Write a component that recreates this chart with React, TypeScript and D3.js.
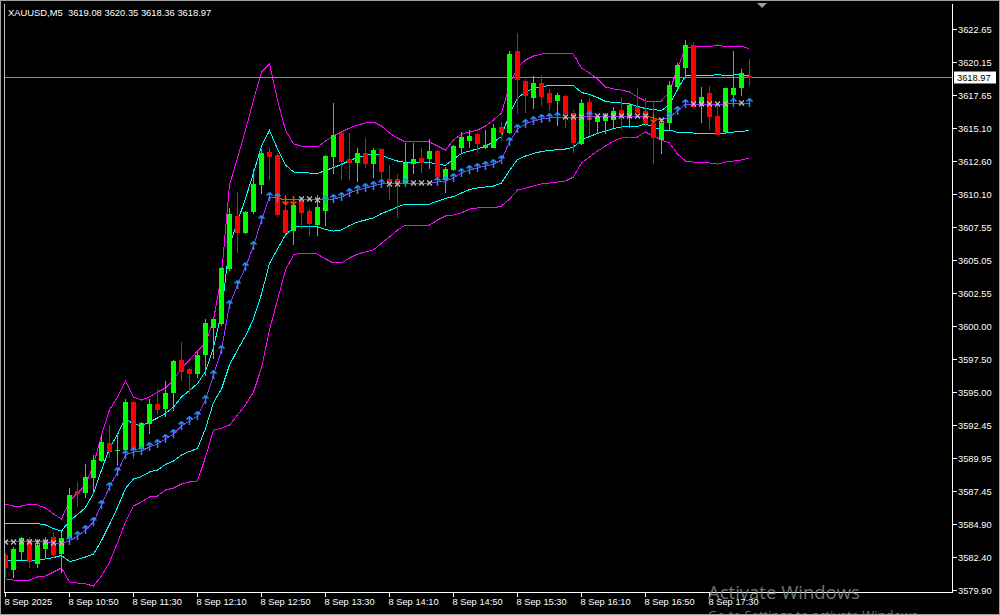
import React from "react";
import * as d3 from "d3";

// ---------- DATA ----------
const symbol = "XAUUSD,M5";
const startTime = new Date(2025, 8, 8, 10, 10);
const barMinutes = 5;

const opens = [
  3582.57, 3581.50, 3582.87, 3583.76, 3581.98, 3583.08, 3583.96, 3582.70, 3583.96, 3587.44,
  3587.39, 3588.53, 3589.81, 3591.12, 3590.57, 3590.62, 3594.25, 3590.70, 3592.60, 3594.07,
  3593.75, 3594.96, 3597.43, 3596.74, 3596.46, 3597.88, 3599.96, 3600.27, 3604.41, 3608.42,
  3607.20, 3608.80, 3610.84, 3613.30, 3613.05, 3608.86, 3607.33, 3609.56, 3608.78, 3607.79,
  3608.86, 3612.97, 3614.70, 3612.72, 3612.54, 3613.18, 3612.46, 3613.50, 3611.20, 3611.20,
  3610.97, 3612.41, 3612.80, 3612.80, 3613.35, 3611.22, 3611.98, 3613.68, 3614.19, 3614.65,
  3613.63, 3613.68, 3615.16, 3614.82, 3620.97, 3618.71, 3617.49, 3618.56, 3617.80, 3617.24,
  3617.54, 3616.22, 3613.94, 3617.11, 3615.66, 3615.71, 3615.77, 3616.48, 3616.02, 3616.68,
  3616.42, 3615.51, 3614.24, 3615.58, 3618.30, 3619.78, 3621.43, 3616.86, 3617.75, 3616.02,
  3614.90, 3617.70, 3618.25, 3619.08,
];
const highs = [
  3582.72, 3583.18, 3583.96, 3583.96, 3583.76, 3583.96, 3584.30, 3584.34, 3587.65, 3588.11,
  3589.50, 3590.19, 3591.71, 3592.47, 3591.84, 3594.43, 3594.32, 3592.73, 3594.43, 3595.22,
  3595.83, 3597.43, 3598.82, 3596.80, 3598.06, 3600.53, 3600.60, 3604.49, 3608.99, 3610.25,
  3608.81, 3611.98, 3613.48, 3613.56, 3613.18, 3610.00, 3609.37, 3609.87, 3608.91, 3610.00,
  3613.05, 3617.03, 3614.75, 3614.75, 3613.56, 3614.32, 3613.60, 3613.55, 3612.29, 3611.60,
  3613.98, 3613.94, 3613.60, 3614.27, 3613.40, 3612.16, 3613.81, 3614.82, 3614.95, 3614.70,
  3614.95, 3615.41, 3615.58, 3620.99, 3622.32, 3618.81, 3619.07, 3619.14, 3618.05, 3617.80,
  3617.62, 3616.48, 3617.31, 3617.37, 3616.10, 3616.22, 3616.73, 3617.44, 3616.93, 3618.13,
  3617.37, 3617.11, 3615.71, 3618.71, 3620.08, 3621.81, 3621.66, 3618.21, 3618.30, 3616.99,
  3618.15, 3620.99, 3619.58, 3620.35,
];
const lows = [
  3580.89, 3580.89, 3582.24, 3581.68, 3581.68, 3582.32, 3582.44, 3581.29, 3583.90, 3586.32,
  3587.01, 3587.27, 3589.75, 3590.06, 3589.43, 3590.55, 3589.94, 3590.50, 3591.89, 3593.31,
  3593.16, 3593.62, 3595.90, 3594.93, 3596.15, 3596.28, 3597.56, 3600.09, 3604.28, 3605.68,
  3607.08, 3608.60, 3610.13, 3611.20, 3608.40, 3607.08, 3606.24, 3607.46, 3606.95, 3606.95,
  3607.71, 3611.65, 3611.20, 3611.20, 3611.09, 3612.11, 3611.39, 3611.14, 3609.67, 3608.35,
  3610.89, 3611.70, 3611.77, 3612.03, 3611.14, 3610.25, 3611.90, 3613.30, 3613.68, 3613.30,
  3613.60, 3613.63, 3614.19, 3614.70, 3616.22, 3616.35, 3616.61, 3616.86, 3616.48, 3615.33,
  3615.20, 3613.30, 3613.88, 3614.57, 3614.70, 3614.70, 3615.20, 3615.01, 3615.20, 3616.32,
  3615.33, 3612.41, 3613.22, 3614.95, 3618.13, 3619.07, 3616.68, 3615.58, 3615.01, 3614.62,
  3614.82, 3617.37, 3617.62, 3618.36,
];
const closes = [
  3581.65, 3583.02, 3583.89, 3582.11, 3583.33, 3583.71, 3582.62, 3583.84, 3587.14, 3587.27,
  3588.53, 3589.81, 3591.20, 3590.51, 3590.60, 3594.25, 3590.70, 3592.60, 3594.07, 3593.69,
  3594.89, 3597.35, 3596.61, 3596.46, 3597.81, 3600.22, 3600.53, 3604.41, 3608.53, 3607.20,
  3608.73, 3610.84, 3613.18, 3612.97, 3608.55, 3607.20, 3609.24, 3608.73, 3607.84, 3609.11,
  3612.97, 3614.57, 3612.59, 3612.54, 3613.18, 3612.46, 3613.43, 3611.85, 3611.01, 3611.07,
  3612.46, 3612.72, 3612.54, 3613.35, 3611.45, 3611.98, 3613.73, 3614.44, 3614.49, 3613.94,
  3613.81, 3615.08, 3614.82, 3620.74, 3618.84, 3617.62, 3618.56, 3617.57, 3617.11, 3617.62,
  3616.27, 3614.06, 3617.03, 3615.77, 3615.92, 3616.10, 3616.40, 3616.10, 3616.86, 3616.35,
  3615.46, 3614.39, 3615.51, 3618.38, 3619.91, 3621.43, 3616.78, 3617.49, 3616.02, 3614.65,
  3618.13, 3618.13, 3619.27, 3618.97,
];

// Bollinger bands (deviation 2 = outer, deviation 1 = inner) around the middle line
const bbUpper = [
  3586.45, 3586.30, 3586.30, 3586.45, 3586.38, 3586.15, 3585.69, 3585.31, 3586.68, 3587.29,
  3587.90, 3589.43, 3591.71, 3593.62, 3594.61, 3595.83, 3594.61, 3594.38, 3594.61, 3594.99,
  3595.29, 3595.90, 3596.82, 3597.43, 3598.11, 3598.72, 3600.47, 3603.90, 3610.76, 3612.82,
  3614.95, 3617.24, 3619.37, 3619.98, 3617.24, 3614.95, 3613.89, 3613.73, 3613.66, 3613.66,
  3614.11, 3614.50, 3614.80, 3615.10, 3615.33, 3615.49, 3615.56, 3615.26, 3614.72, 3614.34,
  3614.04, 3614.04, 3614.04, 3614.04, 3613.73, 3613.43, 3614.19, 3614.65, 3614.80, 3614.95,
  3615.26, 3615.71, 3616.25, 3618.38, 3619.75, 3620.29, 3620.59, 3620.74, 3620.82, 3620.82,
  3620.82, 3620.74, 3619.68, 3619.30, 3618.84, 3618.23, 3618.08, 3618.00, 3617.85, 3617.47,
  3617.16, 3617.16, 3617.16, 3617.85, 3619.68, 3621.20, 3621.28, 3621.28, 3621.28, 3621.43,
  3621.28, 3621.28, 3621.35, 3621.12,
];
const bbMid = [
  3583.56, 3583.56, 3583.56, 3583.56, 3583.56, 3583.56, 3583.48, 3583.48, 3583.63, 3584.01,
  3584.47, 3585.08, 3586.38, 3587.75, 3588.89, 3590.19, 3590.42, 3590.49, 3590.80, 3591.03,
  3591.41, 3591.79, 3592.40, 3592.78, 3593.16, 3594.38, 3596.28, 3598.19, 3601.62, 3603.14,
  3604.51, 3606.11, 3608.09, 3609.85, 3609.77, 3609.62, 3609.62, 3609.69, 3609.69, 3609.62,
  3609.62, 3609.69, 3609.85, 3610.15, 3610.38, 3610.53, 3610.69, 3610.84, 3610.84, 3610.84,
  3610.91, 3610.91, 3610.91, 3610.91, 3610.99, 3611.07, 3611.29, 3611.68, 3611.90, 3612.06,
  3612.21, 3612.36, 3612.67, 3614.04, 3615.03, 3615.41, 3615.64, 3615.79, 3615.87, 3615.94,
  3615.94, 3615.94, 3615.94, 3616.02, 3616.02, 3616.02, 3616.02, 3616.02, 3616.02, 3616.02,
  3616.02, 3615.87, 3615.71, 3615.94, 3616.40, 3616.93, 3616.93, 3616.93, 3616.93, 3616.93,
  3616.93, 3617.01, 3617.01, 3617.01,
];
const bbLower = [
  3580.74, 3580.66, 3580.66, 3580.66, 3580.89, 3580.97, 3581.27, 3581.58, 3580.51, 3580.43,
  3580.36, 3580.20, 3580.97, 3582.03, 3583.48, 3585.08, 3586.30, 3586.61, 3586.99, 3587.06,
  3587.52, 3587.67, 3587.98, 3588.13, 3588.21, 3590.03, 3592.09, 3592.24, 3592.47, 3593.24,
  3594.00, 3594.99, 3596.82, 3599.71, 3602.00, 3604.28, 3605.43, 3605.58, 3605.58, 3605.50,
  3605.12, 3604.82, 3604.82, 3605.20, 3605.50, 3605.66, 3605.81, 3606.34, 3606.80, 3607.33,
  3607.71, 3607.71, 3607.71, 3607.71, 3608.09, 3608.40, 3608.48, 3608.63, 3608.93, 3609.01,
  3609.01, 3609.01, 3609.16, 3609.69, 3610.38, 3610.53, 3610.69, 3610.84, 3610.91, 3610.99,
  3611.07, 3611.37, 3612.44, 3612.89, 3613.35, 3613.73, 3614.11, 3614.34, 3614.42, 3614.42,
  3614.80, 3614.50, 3614.19, 3613.96, 3613.12, 3612.59, 3612.51, 3612.51, 3612.44, 3612.36,
  3612.51, 3612.59, 3612.67, 3612.82,
];

// trend signal per bar: u = up arrow, d = down arrow, x = flat
const signals = (
  "xxxxxxxx" +
  "uuuuuuuuuuuuuuuuuuuuuuuuuuu" +
  "dd" + "xxx" + "uuuuuuuu" + "xx" + "u" + "xxx" +
  "uuuuuuuuuuuuuuuu" + "xxx" + "u" + "xxxxxxx" + "d" + "x" +
  "uuu" + "xxxxx" + "u" + "x" + "u"
).split("");

const priceTicks = [
  3622.65, 3620.15, 3617.65, 3615.10, 3612.60, 3610.10, 3607.55, 3605.05, 3602.55,
  3600.00, 3597.50, 3595.00, 3592.45, 3589.95, 3587.45, 3584.90, 3582.40, 3579.90,
];
const timeTicks = ["10:10", "10:50", "11:30", "12:10", "12:50", "13:30", "14:10", "14:50", "15:30", "16:10", "16:50", "17:30"];
const timeTickLabels = [
  "8 Sep 2025", "8 Sep 10:50", "8 Sep 11:30", "8 Sep 12:10", "8 Sep 12:50", "8 Sep 13:30",
  "8 Sep 14:10", "8 Sep 14:50", "8 Sep 15:30", "8 Sep 16:10", "8 Sep 16:50", "8 Sep 17:30",
];

// ---------- CHART ----------
const W = 1000;
const H = 615;
const FONT = "'Liberation Sans', Arial, sans-serif";

export default function App() {
  const n = closes.length;
  const frame = { left: 4, right: 952, top: 4, bottom: 592 };
  const barStep = 8;
  const barTimes = d3.range(n).map((i) => d3.timeMinute.offset(startTime, i * barMinutes));
  const fmt = d3.timeFormat("%H:%M");
  const x = d3.scaleLinear().domain([0, n - 1]).range([5.5, 5.5 + barStep * (n - 1)]);
  const y = d3.scaleLinear().domain([3579.9, 3622.65]).range([590, 29]);

  const idx = d3.range(n);
  const mkLine = (arr: number[]) =>
    d3.line<number>().x((i) => x(i)).y((i) => y(arr[i]))(idx) || "";
  const innerUp = idx.map((i) => (bbMid[i] + bbUpper[i]) / 2);
  const innerDn = idx.map((i) => (bbMid[i] + bbLower[i]) / 2);

  const last = closes[n - 1];
  const lastY = Math.round(y(last)) + 0.5;

  const upArrow = "M0,-4.5 L-3,-1.5 M0,-4.5 L3,-1.5 M0,-4.5 L0,4";
  const dnArrow = "M0,4.5 L-3,1.5 M0,4.5 L3,1.5 M0,4.5 L0,-4";

  return (
    <svg
      width={W}
      height={H}
      style={{ position: "absolute", left: 0, top: 0, display: "block", background: "#000" }}
      fontFamily={FONT}
    >
      <rect x={0} y={0} width={W} height={H} fill="#000" />
      <defs>
        <clipPath id="plot">
          <rect x={frame.left + 1} y={frame.top} width={frame.right - frame.left - 1} height={frame.bottom - frame.top} />
        </clipPath>
      </defs>

      {/* header */}
      <text x={8} y={16} fill="#fff" fontSize={9.4}>
        {symbol}
        {"\u00a0\u00a0"}
        {`${opens[n - 1].toFixed(2)} ${highs[n - 1].toFixed(2)} ${lows[n - 1].toFixed(2)} ${closes[n - 1].toFixed(2)}`}
      </text>

      <g clipPath="url(#plot)">
        {/* bands */}
        <g shapeRendering="crispEdges" fill="none" strokeWidth={1}>
          <path d={mkLine(bbUpper)} stroke="#ff00ff" />
          <path d={mkLine(bbLower)} stroke="#ff00ff" />
          <path d={mkLine(innerUp)} stroke="#00ffff" />
          <path d={mkLine(innerDn)} stroke="#00ffff" />
        </g>

        {/* price line */}
        <line x1={frame.left} x2={frame.right} y1={lastY} y2={lastY} stroke="#8c8c8c" strokeWidth={1} />

        {/* candles */}
        {idx.map((i) => {
          const o = opens[i], c = closes[i];
          const bull = c >= o;
          const col = bull ? "#00ff00" : "#ff0000";
          const cx = x(i);
          const yh = Math.round(y(highs[i]));
          const yl = Math.round(y(lows[i]));
          const bt = Math.round(y(Math.max(o, c)));
          const bb = Math.round(y(Math.min(o, c)));
          return (
            <g key={i}>
              <rect x={cx - 0.5} y={yh} width={1} height={Math.max(1, yl - yh + 1)} fill={col} />
              <rect x={cx - 2.5} y={bt} width={5} height={Math.max(1, bb - bt + 1)} fill={col} />
            </g>
          );
        })}

        {/* middle line, coloured by signal */}
        <g shapeRendering="crispEdges">
          {idx.slice(0, n - 1).map((i) => {
            const down = signals[i] === "d" || signals[i + 1] === "d";
            return (
              <line
                key={"m" + i}
                x1={x(i)}
                y1={y(bbMid[i])}
                x2={x(i + 1)}
                y2={y(bbMid[i + 1])}
                stroke={down ? "#ff4500" : "#9b30ff"}
                strokeWidth={1}
              />
            );
          })}
        </g>

        {/* signal markers */}
        {idx.map((i) => {
          const s = signals[i];
          const cx = x(i);
          const cy = y(bbMid[i]);
          if (s === "u")
            return <path key={"s" + i} d={upArrow} transform={`translate(${cx},${cy})`} stroke="#1e90ff" strokeWidth={1.5} fill="none" />;
          if (s === "d")
            return <path key={"s" + i} d={dnArrow} transform={`translate(${cx},${cy})`} stroke="#ff4500" strokeWidth={1.5} fill="none" />;
          return (
            <path
              key={"s" + i}
              d="M-2.5,-2.5 L2.5,2.5 M-2.5,2.5 L2.5,-2.5"
              transform={`translate(${cx},${cy})`}
              stroke="#c8b8c0"
              strokeWidth={1.3}
              fill="none"
            />
          );
        })}
      </g>

      {/* frame */}
      <line x1={frame.left + 0.5} x2={frame.left + 0.5} y1={frame.top} y2={frame.bottom} stroke="#c0c0c0" />
      <line x1={frame.right + 0.5} x2={frame.right + 0.5} y1={frame.top} y2={frame.bottom + 1} stroke="#fff" />
      <line x1={frame.left} x2={frame.right + 1} y1={frame.bottom + 0.5} y2={frame.bottom + 0.5} stroke="#fff" />

      {/* price axis */}
      {priceTicks.map((v) => {
        const ty = Math.round(y(v)) + 0.5;
        return (
          <g key={v}>
            <line x1={frame.right + 1} x2={frame.right + 5} y1={ty} y2={ty} stroke="#fff" />
            <text x={958} y={ty + 3.5} fill="#fff" fontSize={9.3}>
              {v.toFixed(2)}
            </text>
          </g>
        );
      })}

      {/* last price label */}
      <rect x={954} y={lastY - 6} width={42} height={12} fill="#fff" />
      <text x={957} y={lastY + 3.5} fill="#000" fontSize={9.3}>
        {last.toFixed(2)}
      </text>

      {/* time axis */}
      {timeTicks.map((t, j) => {
        const i = barTimes.findIndex((d) => fmt(d) === t);
        const tx = Math.round(x(i)) - 0.5;
        return (
          <g key={t}>
            <line x1={tx} x2={tx} y1={frame.bottom} y2={frame.bottom + 5} stroke="#fff" />
            <text x={tx - 1} y={605} fill="#fff" fontSize={9.3}>
              {timeTickLabels[j]}
            </text>
          </g>
        );
      })}

      {/* chart shift marker */}
      <path d="M757,3 L767,3 L762,8 Z" fill="#a0a0a0" />

      {/* OS watermark */}
      <text x={708} y={599} fill="#8a8a8a" fillOpacity={0.85} fontSize={18.5} fontFamily="'Open Sans', 'Noto Sans', sans-serif">
        Activate Windows
      </text>
      <text x={708} y={620} fill="#8a8a8a" fillOpacity={0.85} fontSize={13} fontFamily="'Open Sans', 'Noto Sans', sans-serif">
        Go to Settings to activate Windows.
      </text>

      {/* window border */}
      <rect x={0.5} y={0.5} width={W - 1} height={H - 1} fill="none" stroke="#a0a0a0" />
    </svg>
  );
}
